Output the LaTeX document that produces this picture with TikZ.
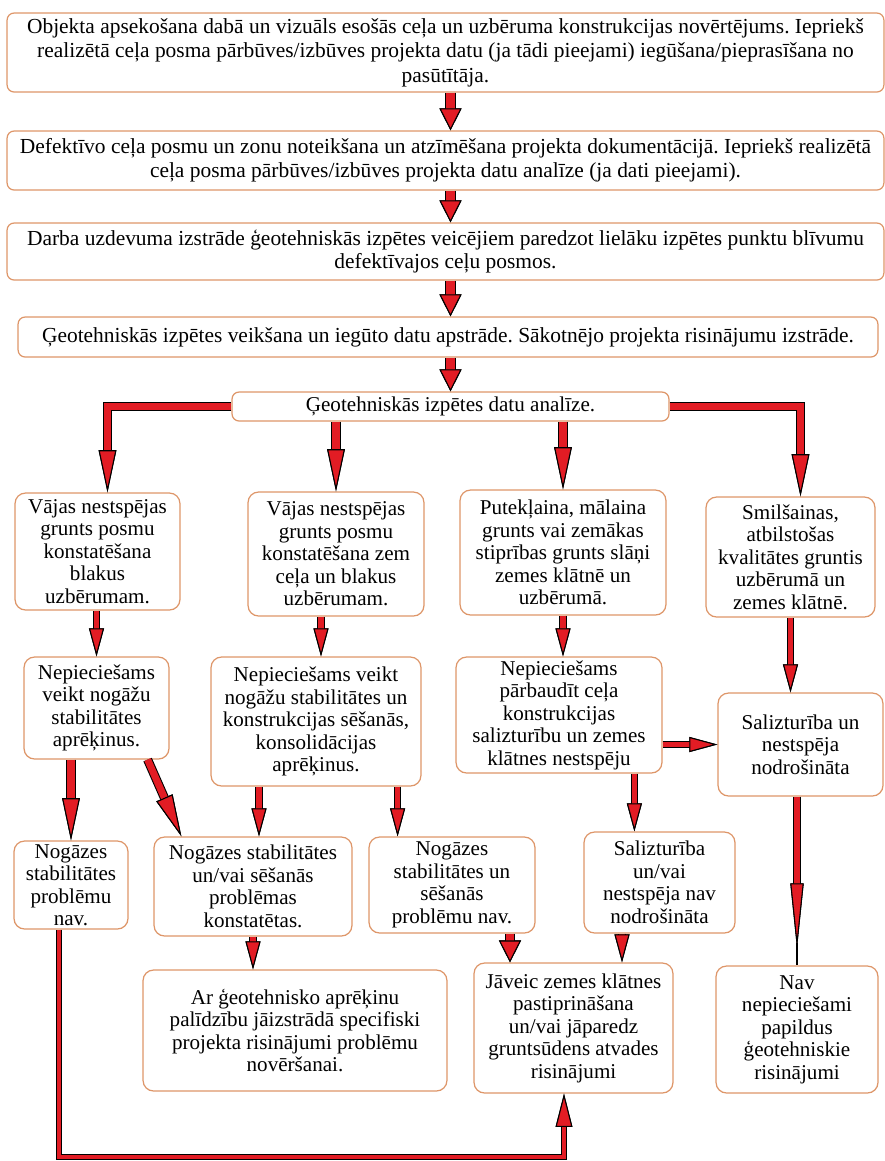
\documentclass[tikz,border=0pt]{standalone}
\usepackage{fontspec}
\setmainfont{Liberation Serif}
\usetikzlibrary{arrows.meta}
\definecolor{boxline}{RGB}{222,150,105}
\definecolor{arrred}{RGB}{226,28,36}
\frenchspacing

\begin{document}
\begin{tikzpicture}[
  x=0.02cm, y=-0.02cm,
  wide/.style={rectangle,rounded corners=4pt,draw=boxline,line width=0.7pt,fill=white,
               inner sep=1pt,align=center,font=\fontsize{12.2}{13.5}\selectfont},
  stage/.style={rectangle,rounded corners=6pt,draw=boxline,line width=0.7pt,fill=white,
               inner sep=1pt,align=center,font=\fontsize{12}{12.8}\selectfont},
  bigtip/.tip={Triangle[length=12.5pt,width=12.5pt,color=black,fill=arrred,line width=0.6pt]},
  slimtip/.tip={Triangle[length=16pt,width=8.5pt,color=black,fill=arrred,line width=0.6pt]},
  longtip/.tip={Triangle[length=24pt,width=10pt,color=black,fill=arrred,line width=0.6pt]},
  needletip/.tip={Triangle[length=37pt,width=7.5pt,color=black,fill=arrred,line width=0.6pt]},
  looptip/.tip={Triangle[length=19pt,width=9.5pt,color=black,fill=arrred,line width=0.6pt]},
  arr/.style={line width=6.2pt,-{bigtip},postaction={draw=arrred,line width=5pt,-{bigtip}}},
  slimarr/.style={line width=4.2pt,-{slimtip},postaction={draw=arrred,line width=3pt,-{slimtip}}},
  longarr/.style={line width=5.2pt,-{longtip},postaction={draw=arrred,line width=4pt,-{longtip}}},
  needlearr/.style={line width=4.4pt,-{needletip},postaction={draw=arrred,line width=3.2pt,-{needletip}}},
  looparr/.style={line width=3.6pt,-{looptip},postaction={draw=arrred,line width=2.4pt,-{looptip}}}
]
  \useasboundingbox (0,0) rectangle (885,1161);

  \node[wide,font=\fontsize{12.2}{14}\selectfont,minimum width=17.54cm,minimum height=1.58cm] (survey) at (445.5,52.5)
    {Objekta apsekošana dabā un vizuāls esošās ceļa un uzbēruma konstrukcijas novērtējums. Iepriekš\\
     realizētā ceļa posma pārbūves/izbūves projekta datu (ja tādi pieejami) iegūšana/pieprasīšana no\\
     pasūtītāja.};
  \node[wide,minimum width=17.54cm,minimum height=1.18cm] (defects) at (445.5,160.5)
    {Defektīvo ceļa posmu un zonu noteikšana un atzīmēšana projekta dokumentācijā. Iepriekš realizētā\\
     ceļa posma pārbūves/izbūves projekta datu analīze (ja dati pieejami).};
  \node[wide,minimum width=17.54cm,minimum height=1.14cm] (task) at (445.5,251.5)
    {Darba uzdevuma izstrāde ģeotehniskās izpētes veicējiem paredzot lielāku izpētes punktu blīvumu\\
     defektīvajos ceļu posmos.};
  \node[wide,minimum width=17.2cm,minimum height=0.8cm] (fieldwork) at (448,337)
    {Ģeotehniskās izpētes veikšana un iegūto datu apstrāde. Sākotnējo projekta risinājumu izstrāde.};
  \node[wide,font=\fontsize{12}{12.8}\selectfont,minimum width=8.74cm,minimum height=0.58cm] (analysis) at (450.5,406.5)
    {Ģeotehniskās izpētes datu analīze.};

  \node[stage,minimum width=3.3cm,minimum height=2.34cm] (weakside) at (97.5,551.5)
    {Vājas nestspējas\\grunts posmu\\konstatēšana\\blakus\\uzbērumam.};
  \node[stage,minimum width=3.52cm,minimum height=2.48cm] (weakunder) at (336,554)
    {Vājas nestspējas\\grunts posmu\\konstatēšana zem\\ceļa un blakus\\uzbērumam.};
  \node[stage,minimum width=4.12cm,minimum height=2.5cm] (silty) at (563,552.5)
    {Putekļaina, mālaina\\grunts vai zemākas\\stiprības grunts slāņi\\zemes klātnē un\\uzbērumā.};
  \node[stage,minimum width=3.38cm,minimum height=2.4cm] (sandy) at (790.5,557)
    {Smilšainas,\\atbilstošas\\kvalitātes gruntis\\uzbērumā un\\zemes klātnē.};

  \node[stage,minimum width=2.9cm,minimum height=2.04cm] (slopecalc) at (96.5,708)
    {Nepieciešams\\veikt nogāžu\\stabilitātes\\aprēķinus.};
  \node[stage,minimum width=4.2cm,minimum height=2.58cm] (settlecalc) at (316,721.5)
    {Nepieciešams veikt\\nogāžu stabilitātes un\\konstrukcijas sēšanās,\\konsolidācijas\\aprēķinus.};
  \node[stage,minimum width=4.12cm,minimum height=2.32cm] (bearcheck) at (559,715)
    {Nepieciešams\\pārbaudīt ceļa\\konstrukcijas\\salizturību un zemes\\klātnes nestspēju};
  \node[stage,minimum width=3.3cm,minimum height=2.06cm] (bearok) at (800.5,744.5)
    {Salizturība un\\nestspēja\\nodrošināta};

  \node[stage,minimum width=2.28cm,minimum height=1.76cm] (slopeok) at (71,885)
    {Nogāzes\\stabilitātes\\problēmu\\nav.};
  \node[stage,minimum width=3.96cm,minimum height=1.98cm] (problems) at (253,886.5)
    {Nogāzes stabilitātes\\un/vai sēšanās\\problēmas\\konstatētas.};
  \node[stage,minimum width=3.32cm,minimum height=1.92cm] (settleok) at (452,885)
    {Nogāzes\\stabilitātes un\\sēšanās\\problēmu nav.};
  \node[stage,minimum width=3.02cm,minimum height=2.02cm] (bearfail) at (659.5,882.5)
    {Salizturība\\un/vai\\nestspēja nav\\nodrošināta};

  \node[stage,minimum width=6.08cm,minimum height=2.42cm] (specific) at (295,1030.5)
    {Ar ģeotehnisko aprēķinu\\palīdzību jāizstrādā specifiski\\projekta risinājumi problēmu\\novēršanai.};
  \node[stage,minimum width=3.98cm,minimum height=2.6cm] (reinforce) at (573.5,1028)
    {Jāveic zemes klātnes\\pastiprināšana\\un/vai jāparedz\\gruntsūdens atvades\\risinājumi};
  \node[stage,minimum width=3.24cm,minimum height=2.54cm] (noextra) at (797,1029.5)
    {Nav\\nepieciešami\\papildus\\ģeotehniskie\\risinājumi};

  \coordinate (needleend) at ([yshift=0.34cm]noextra.north);
  \coordinate (loopbase) at (300,1157);

  \draw[arr] (survey.south -| analysis) -- (defects.north -| analysis);
  \draw[arr] (defects.south -| analysis) -- (task.north -| analysis);
  \draw[arr] (task.south -| analysis) -- (fieldwork.north -| analysis);
  \draw[arr] (fieldwork.south -| analysis) -- (analysis.north);

  \draw[longarr] (analysis.west) -| ([xshift=0.2cm]weakside.north);
  \draw[longarr] (analysis.south -| weakunder) -- (weakunder.north);
  \draw[longarr] (analysis.south -| silty) -- (silty.north);
  \draw[longarr] (analysis.east) -| ([xshift=0.2cm]sandy.north);

  \draw[slimarr] (weakside.south -| slopecalc) -- (slopecalc.north);
  \draw[slimarr] ([xshift=0.1cm]weakunder.south -| settlecalc) -- ([xshift=0.1cm]settlecalc.north);
  \draw[slimarr] (silty.south) -- (silty.south |- bearcheck.north);
  \draw[slimarr] (sandy.south) -- (sandy.south |- bearok.north);
  \draw[slimarr] (bearcheck.east |- bearok.west) -- (bearok.west);

  \draw[longarr] (slopecalc.south -| slopeok) -- (slopeok.north);
  \draw[longarr] ([xshift=-0.44cm]slopecalc.south east) -- ([xshift=0.56cm]problems.north west);
  \draw[slimarr] ([xshift=0.12cm]problems.north |- settlecalc.south) -- ([xshift=0.12cm]problems.north);
  \draw[slimarr] ([xshift=-0.48cm]settlecalc.south east) -- ([xshift=-0.48cm]settlecalc.south east |- settleok.north);
  \draw[slimarr] ([xshift=1.02cm]bearfail.north west |- bearcheck.south) -- ([xshift=1.02cm]bearfail.north west);
  \draw[needlearr] (bearok.south -| noextra) -- (needleend);
  \draw[line width=1.2pt] ([yshift=0.1cm]needleend) -- (noextra.north);

  \draw[slimarr] (problems.south) -- (problems.south |- specific.north);
  \draw[arr] ([xshift=1.16cm]settleok.south) -- ([xshift=1.16cm]settleok.south |- reinforce.north);
  \draw[slimarr] ([xshift=-0.75cm]bearfail.south) -- ([xshift=-0.75cm]bearfail.south |- reinforce.north);
  \draw[looparr] ([xshift=-0.24cm]slopeok.south) |- (loopbase) -| ([xshift=-0.19cm]reinforce.south);
\end{tikzpicture}
\end{document}
